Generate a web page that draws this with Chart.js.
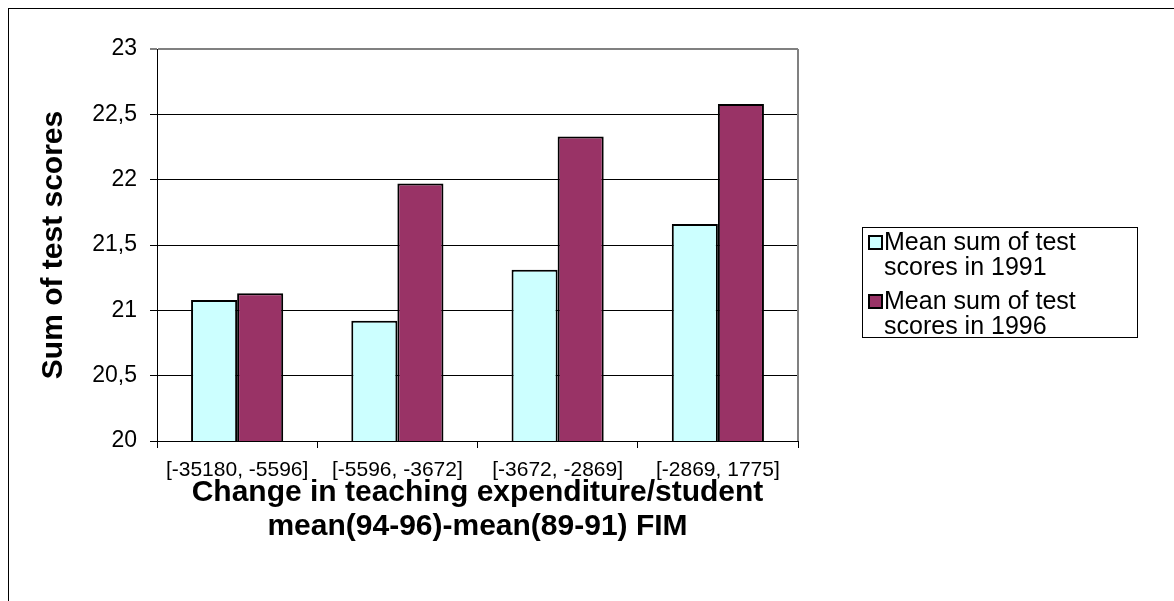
<!DOCTYPE html>
<html>
<head>
<meta charset="utf-8">
<script src="https://cdn.jsdelivr.net/npm/chart.js@4/dist/chart.umd.min.js"></script>
<style>
  html, body { margin: 0; padding: 0; background: #fff; overflow: hidden; }
  #frame {
    position: absolute; left: 8px; top: 8px; width: 1200px; height: 620px;
    border-left: 1px solid #000; border-top: 1px solid #000;
  }
  #wrap { position: absolute; left: 0; top: 0; width: 1174px; height: 601px; }
  #legend {
    position: absolute; left: 862px; top: 227px; width: 274px; height: 109px;
    border: 1px solid #000; background: #fff;
    font-family: 'Liberation Sans', Arial, sans-serif; font-size: 25px; color: #000;
  }
  .entry { position: absolute; left: 0; }
  .swatch {
    position: absolute; left: 5px; top: 6px; width: 11px; height: 11px;
    border: 2px solid #000;
  }
  .txt { position: absolute; left: 21px; top: 0; line-height: 25px; white-space: nowrap; }
</style>
</head>
<body>
<div id="frame"></div>
<div id="wrap"><canvas id="chart" width="1174" height="601"></canvas></div>
<div id="legend"></div>
<script>
// -------- Data --------
const categories = ['[-35180, -5596]', '[-5596, -3672]', '[-3672, -2869]', '[-2869, 1775]'];
const scores1991 = [21.08, 20.92, 21.31, 21.66];
const scores1996 = [21.13, 21.97, 22.33, 22.58];
const seriesLabels = [['Mean sum of test', 'scores in 1991'], ['Mean sum of test', 'scores in 1996']];
const seriesColors = ['#CCFFFF', '#993366'];

const FONT = "'Liberation Sans', Arial, sans-serif";

// gray frame on the right side of the plot area
const plotFrame = {
  id: 'plotFrame',
  afterDraw(chart) {
    const { ctx, chartArea } = chart;
    ctx.save();
    ctx.strokeStyle = '#808080';
    ctx.lineWidth = 2;
    ctx.beginPath();
    ctx.moveTo(chartArea.right, chartArea.top);
    ctx.lineTo(chartArea.right, chartArea.bottom);
    ctx.stroke();
    ctx.restore();
  }
};

const ctx = document.getElementById('chart').getContext('2d');
const chart = new Chart(ctx, {
  type: 'bar',
  data: {
    labels: categories,
    datasets: [
      {
        label: seriesLabels[0].join(' '),
        data: scores1991,
        backgroundColor: seriesColors[0],
        borderColor: '#000',
        borderWidth: 2,
        categoryPercentage: 0.575,
        barPercentage: 1
      },
      {
        label: seriesLabels[1].join(' '),
        data: scores1996,
        backgroundColor: seriesColors[1],
        borderColor: '#000',
        borderWidth: 2,
        categoryPercentage: 0.575,
        barPercentage: 1
      }
    ]
  },
  options: {
    responsive: false,
    animation: false,
    layout: { padding: { left: 20, right: 376, top: 49, bottom: 57 } },
    plugins: {
      legend: { display: false },
      tooltip: { enabled: false }
    },
    scales: {
      x: {
        grid: { offset: true, drawOnChartArea: false, drawTicks: true, tickLength: 7, color: '#000' },
        border: { color: '#000', width: 1 },
        ticks: { color: '#000', font: { family: FONT, size: 21 }, padding: 10, maxRotation: 0 },
        title: {
          display: true,
          text: ['Change in teaching expenditure/student', 'mean(94-96)-mean(89-91) FIM'],
          color: '#000',
          font: { family: FONT, size: 30, weight: 'bold', lineHeight: 1.15 },
          padding: { top: 0, bottom: 0 }
        },
        afterFit: s => { s.height = 103; }
      },
      y: {
        min: 20,
        max: 23,
        ticks: {
          stepSize: 0.5,
          color: '#000',
          font: { family: FONT, size: 23 },
          padding: 13,
          callback: v => String(v).replace('.', ',')
        },
        grid: {
          tickLength: 7,
          color: c => (c.tick && c.tick.value === 23 ? '#808080' : '#000'),
          lineWidth: c => (c.tick && c.tick.value === 23 ? 2 : 1)
        },
        border: { color: '#000', width: 1 },
        title: {
          display: true,
          text: 'Sum of test scores',
          color: '#000',
          font: { family: FONT, size: 30, weight: 'bold', lineHeight: 1.2 },
          padding: { top: 16, bottom: 0 }
        },
        afterFit: s => { s.width = 137; }
      }
    }
  },
  plugins: [plotFrame]
});

// -------- Legend (HTML) --------
const legend = document.getElementById('legend');
seriesLabels.forEach((lines, i) => {
  const entry = document.createElement('div');
  entry.className = 'entry';
  entry.style.top = (1 + i * 59) + 'px';
  const sw = document.createElement('div');
  sw.className = 'swatch';
  sw.style.background = seriesColors[i];
  const txt = document.createElement('div');
  txt.className = 'txt';
  txt.innerHTML = lines.join('<br>');
  entry.appendChild(sw);
  entry.appendChild(txt);
  legend.appendChild(entry);
});
</script>
</body>
</html>
